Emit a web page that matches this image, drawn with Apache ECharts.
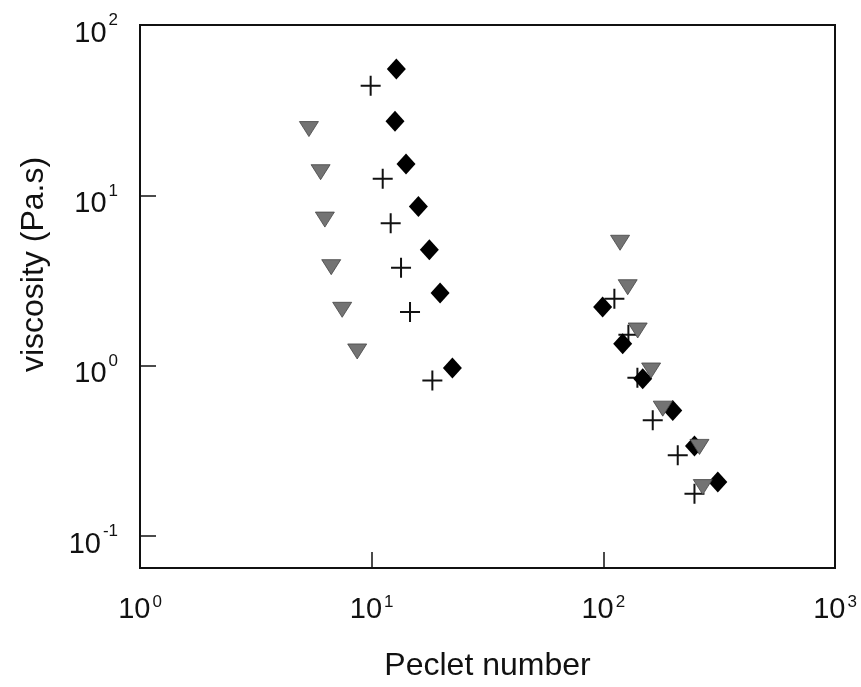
<!DOCTYPE html>
<html><head><meta charset="utf-8">
<script src="https://cdn.jsdelivr.net/npm/echarts@6/dist/echarts.min.js"></script>
<style>html,body{margin:0;padding:0;background:#fff}#c{width:861px;height:687px}</style>
</head><body><div id="c"></div>
<script>
// Tick labels (powers of ten shown)
const xTicks = [1, 10, 100, 1000];
const yTicks = [0.1, 1, 10, 100];
// Grey down-triangles
const triPe   = [5.36, 6.02, 6.28, 6.69, 7.46, 8.66, 118.1, 127.4, 140.7, 160.8, 180.5, 260.0, 268.7];
const triVisc = [24.5, 13.68, 7.21, 3.79, 2.13, 1.213, 5.27, 2.89, 1.61, 0.938, 0.560, 0.334, 0.194];
// Black diamonds
const diaPe   = [12.78, 12.61, 14.07, 15.91, 17.74, 19.74, 22.31, 99.3, 121.2, 147.9, 199.4, 247.4, 312.0];
const diaVisc = [55.2, 27.2, 15.3, 8.60, 4.79, 2.67, 0.969, 2.21, 1.346, 0.839, 0.547, 0.338, 0.208];
// Plus signs
const plusPe   = [9.90, 11.16, 12.08, 13.39, 14.64, 18.28, 111.6, 128.3, 140.3, 163.4, 209.5, 247.4];
const plusVisc = [44.0, 12.5, 6.87, 3.76, 2.07, 0.820, 2.47, 1.52, 0.850, 0.478, 0.298, 0.1776];

const zip = (a, b) => a.map((v, i) => [v, b[i]]);
const powLabel = ticks => v => {
  const ok = ticks.some(t => Math.abs(Math.log10(t) - Math.log10(v)) < 1e-6);
  if (!ok) return '';
  return '{b|10}{s|' + Math.round(Math.log10(v)) + '}';
};
const FONT = '"Liberation Sans", Arial, sans-serif';

const chart = echarts.init(document.getElementById('c'), null, {renderer: 'canvas'});
chart.setOption({
  animation: false,
  backgroundColor: '#fff',
  grid: {left: 140, right: 26, top: 25, bottom: 117, show: true, borderColor: '#111', borderWidth: 2, backgroundColor: 'transparent'},
  xAxis: {
    type: 'log', logBase: 10, min: 1, max: 1000,
    name: 'Peclet number', nameLocation: 'middle', nameGap: 82,
    nameTextStyle: {fontFamily: FONT, fontSize: 32, color: '#111'},
    axisLine: {show: true, lineStyle: {color: '#111', width: 2}},
    axisTick: {show: true, inside: true, length: 16, lineStyle: {color: '#111', width: 1.5}},
    minorTick: {show: false},
    splitLine: {show: false},
    axisLabel: {
      margin: 26, formatter: powLabel(xTicks), showMinLabel: true, showMaxLabel: true,
      rich: {
        b: {fontFamily: FONT, fontSize: 29, color: '#111', lineHeight: 30, verticalAlign: 'bottom'},
        s: {fontFamily: FONT, fontSize: 17, color: '#111', lineHeight: 17, verticalAlign: 'top', padding: [0, 0, 0, 2]}
      }
    }
  },
  yAxis: {
    type: 'log', logBase: 10, min: 0.065, max: 100,
    name: 'viscosity (Pa.s)', nameLocation: 'middle', nameGap: 90, nameRotate: 90,
    nameTextStyle: {fontFamily: FONT, fontSize: 32, color: '#111', padding: [0, 0, 0, 64]},
    axisLine: {show: true, lineStyle: {color: '#111', width: 2}},
    axisTick: {show: true, inside: true, length: 16, lineStyle: {color: '#111', width: 1.5}},
    minorTick: {show: false},
    splitLine: {show: false},
    axisLabel: {
      margin: 22, formatter: powLabel(yTicks), padding: [10, 0, 0, 0],
      rich: {
        b: {fontFamily: FONT, fontSize: 29, color: '#111', lineHeight: 36, verticalAlign: 'bottom'},
        s: {fontFamily: FONT, fontSize: 17, color: '#111', lineHeight: 17, verticalAlign: 'top', padding: [0, 0, 0, 2]}
      }
    }
  },
  series: [
    {
      type: 'scatter', name: 'plus', data: zip(plusPe, plusVisc),
      symbol: 'path://M9,0 L11,0 L11,9 L20,9 L20,11 L11,11 L11,20 L9,20 L9,11 L0,11 L0,9 L9,9 Z',
      symbolSize: 20, itemStyle: {color: '#111', opacity: 1}, z: 2
    },
    {
      type: 'scatter', name: 'diamond', data: zip(diaPe, diaVisc),
      symbol: 'diamond', symbolSize: [19, 21], itemStyle: {color: '#000', opacity: 1}, z: 3
    },
    {
      type: 'scatter', name: 'triangle', data: zip(triPe, triVisc),
      symbol: 'triangle', symbolRotate: 180, symbolSize: [19, 15],
      itemStyle: {color: '#737373', borderColor: '#444', borderWidth: 0.8, opacity: 1}, z: 4
    }
  ]
});
</script>
</body></html>
